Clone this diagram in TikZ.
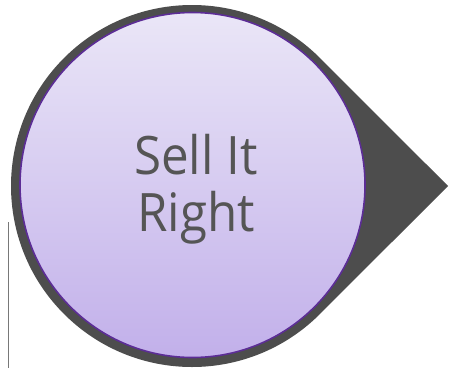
\documentclass[tikz,border=0pt]{standalone}
\usepackage{fontspec}
\setmainfont{Open Sans}[FakeStretch=0.93]
\usetikzlibrary{calc}
\definecolor{darkdrop}{RGB}{77,77,77}
\definecolor{lavtop}{RGB}{234,230,247}
\definecolor{lavbot}{RGB}{194,176,234}
\definecolor{rimpurple}{RGB}{92,45,150}
\definecolor{txtgray}{RGB}{85,85,85}
\definecolor{edgegray}{RGB}{120,120,120}
\tikzset{
  drop/.style={fill=darkdrop,draw=none},
  disc/.style={top color=lavtop,bottom color=lavbot,draw=rimpurple,line width=1.6pt},
  label/.style={font=\fontsize{53}{57}\selectfont,text=txtgray,align=center,inner sep=0pt},
  leftrule/.style={draw=edgegray,line width=1pt}
}
\begin{document}
\begin{tikzpicture}[x=1pt,y=1pt]
\useasboundingbox (0,0) rectangle (449,368);
\coordinate (C) at (192,182);
\coordinate (tip) at (448,182);
\path[drop] (tip) -- ($(C)+(45:181)$) arc[start angle=45,end angle=315,radius=181] -- cycle;
\coordinate (D) at (192.5,183);
\shade[disc] (D) circle[radius=172.5];
\coordinate (ruletop) at (8,146);
\coordinate (rulebot) at (8,0);
\draw[leftrule] (ruletop) -- (rulebot);
\node[label] (txt) at (196,178.5) {Sell It\\Right};
\end{tikzpicture}
\end{document}
